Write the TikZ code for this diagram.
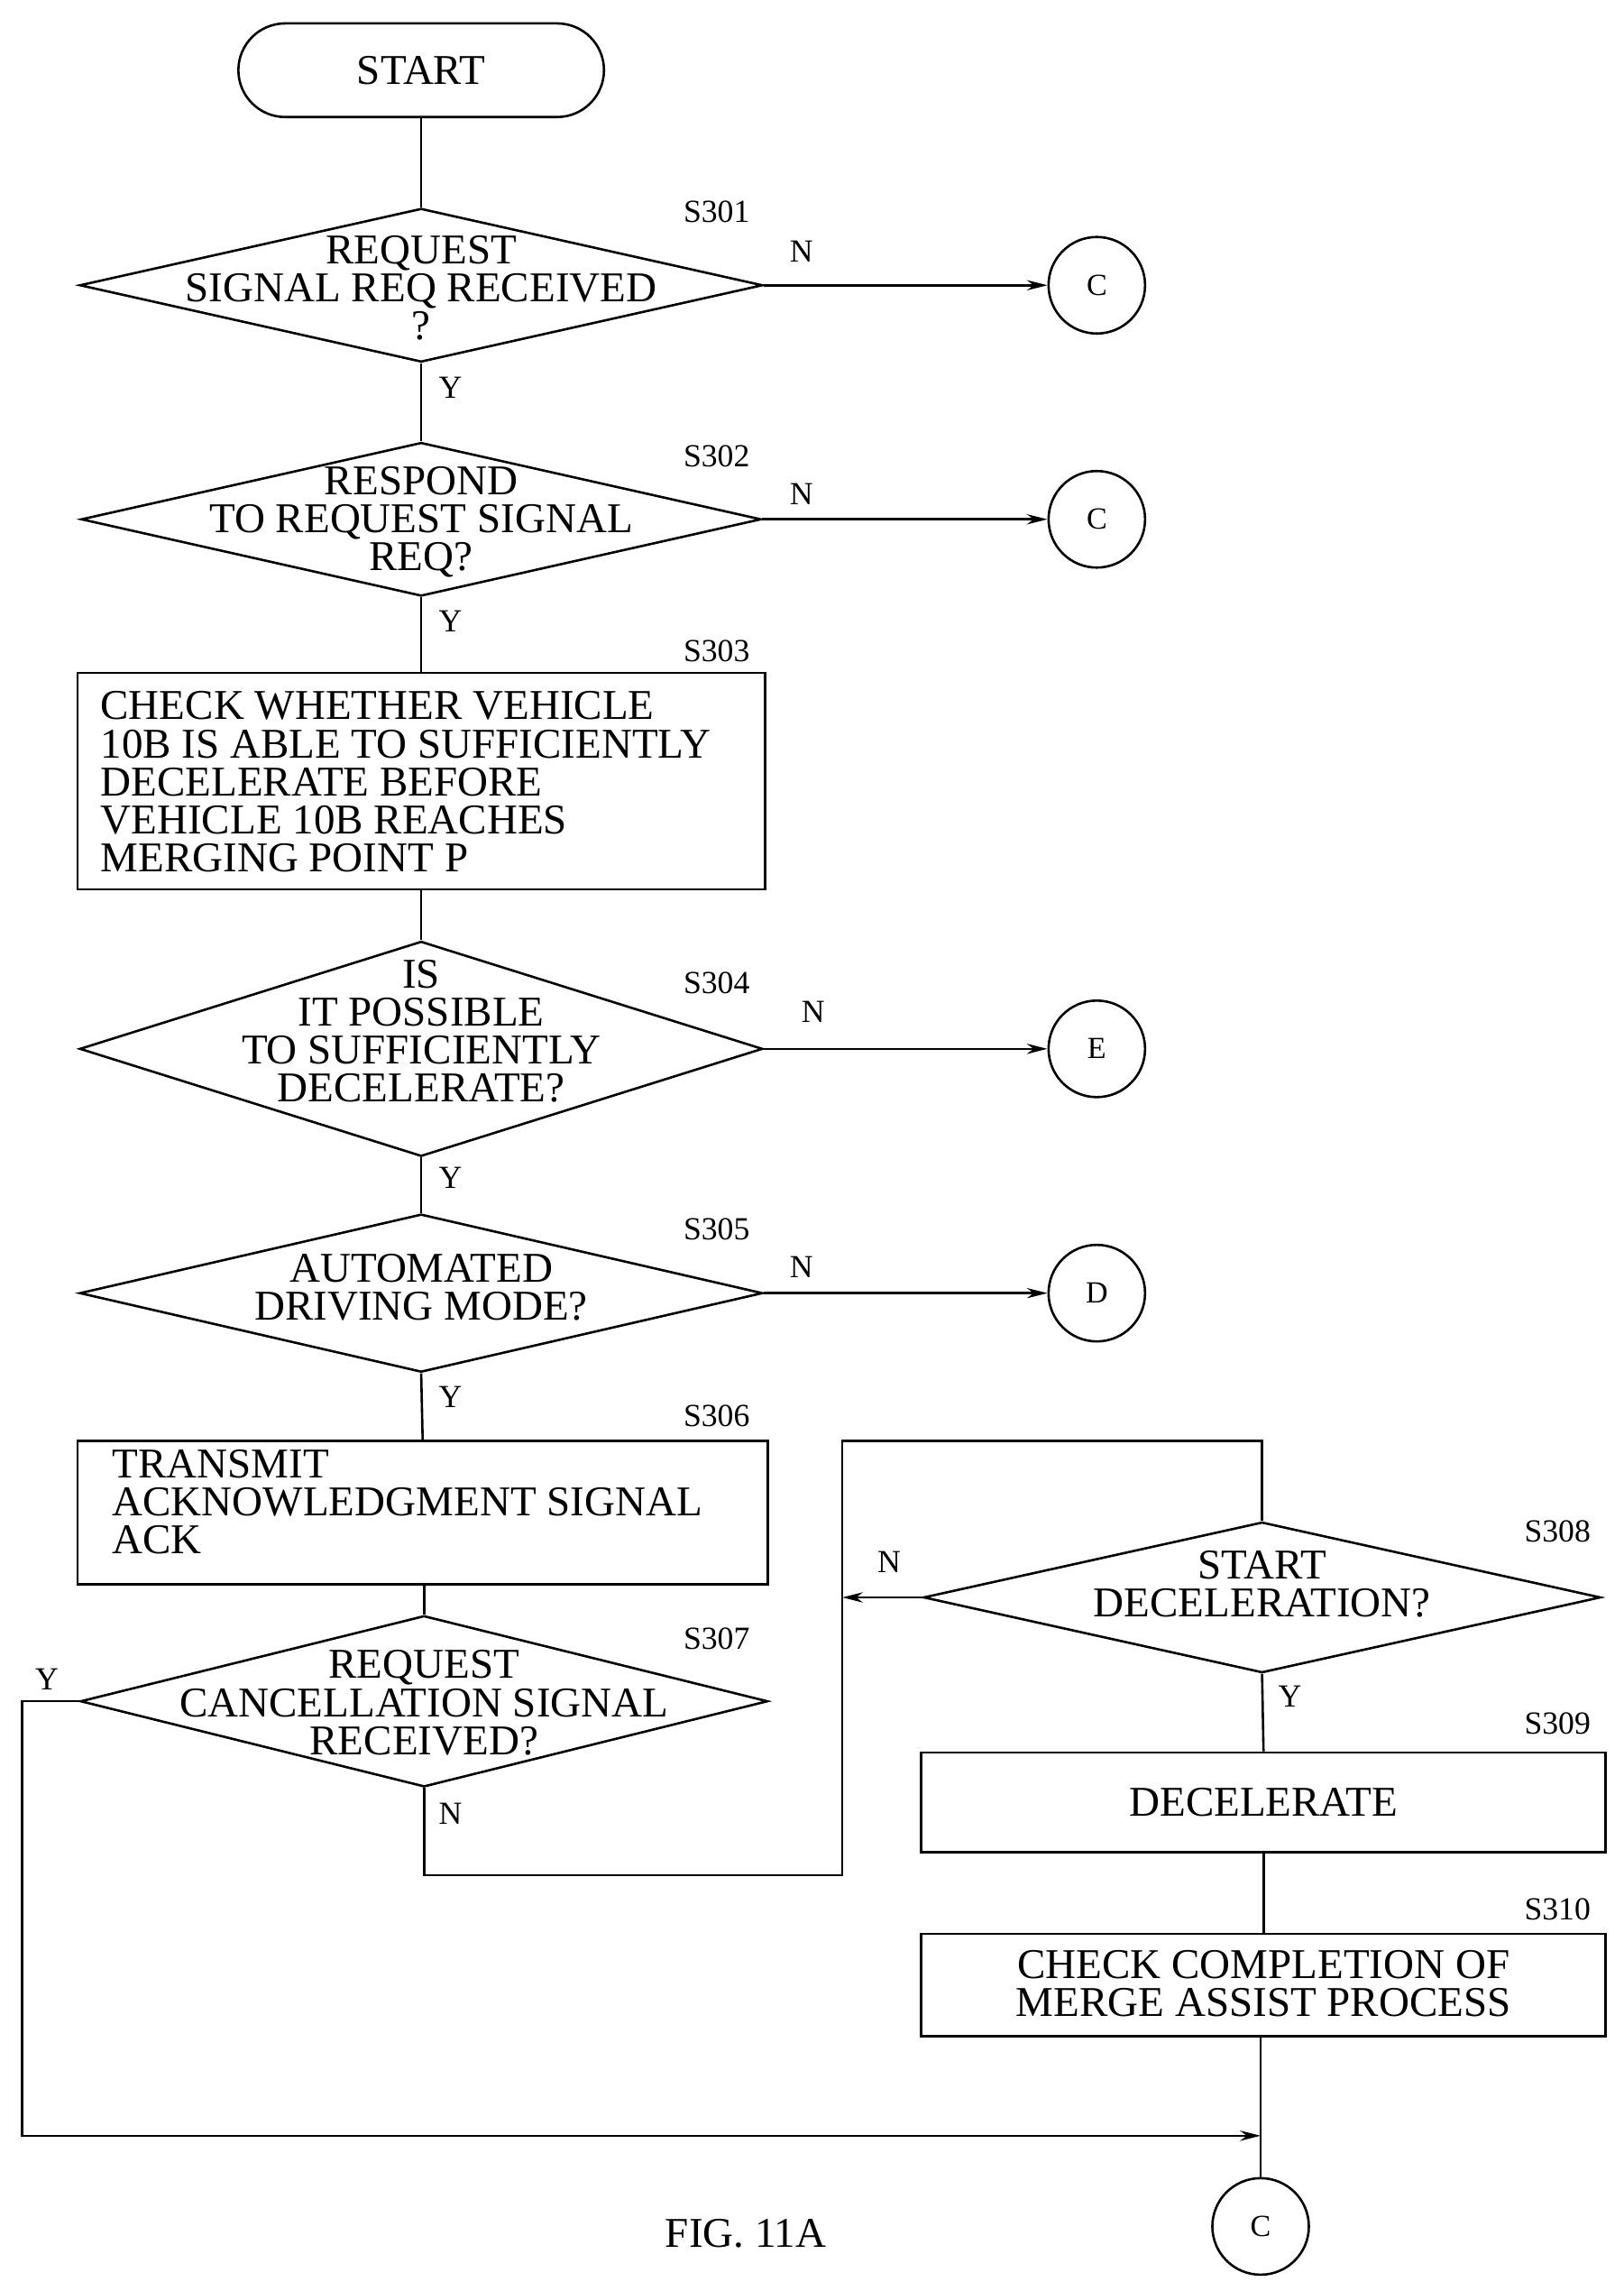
\documentclass[tikz,border=0pt]{standalone}
\usepackage{fontspec}
\setmainfont{Liberation Serif}
\usetikzlibrary{shapes.geometric,arrows.meta}
\begin{document}
\begin{tikzpicture}[x=1pt,y=-1pt,line width=1.6pt,
 dia/.style={draw,diamond,inner sep=0pt},
 box/.style={draw,rectangle,inner sep=0pt},
 txt/.style={font=\fontsize{29}{26}\selectfont,align=center,inner sep=0pt},
 lab/.style={font=\fontsize{22}{22}\selectfont,inner sep=0pt},
 con/.style={draw,circle,minimum size=66pt,inner sep=0pt,font=\fontsize{21}{22}\selectfont},
 arr/.style={-{Stealth[length=14pt,width=7pt]}}]
\useasboundingbox (0,0) rectangle (1110,1560);
\node[draw,rounded corners=32pt,minimum width=250pt,minimum height=64pt,txt] (start) at (288,48) {START};
% S301
\node[dia,minimum width=467pt,minimum height=105pt] (d1) at (288,195) {};
\node[txt] (t1) at (288,197) {REQUEST\\SIGNAL REQ RECEIVED\\?};
\node[lab] (l1) at (490,145) {S301};
\node[con] (c1) at (750,195) {C};
\node[lab] (n1) at (548,172) {N};
\node[lab] (y1) at (308,265) {Y};
% S302
\node[dia,minimum width=465pt,minimum height=105pt] (d2) at (288,355) {};
\node[txt] (t2) at (288,357) {RESPOND\\TO REQUEST SIGNAL\\REQ?};
\node[lab] (l2) at (490,312) {S302};
\node[con] (c2) at (750,355) {C};
\node[lab] (n2) at (548,338) {N};
\node[lab] (y2) at (308,425) {Y};
% S303
\node[box,minimum width=470pt,minimum height=148pt] (b3) at (288,534) {};
\node[txt,align=left,anchor=north west] (t3) at (68,472) {CHECK WHETHER VEHICLE\\10B IS ABLE TO SUFFICIENTLY\\DECELERATE BEFORE\\VEHICLE 10B REACHES\\MERGING POINT P};
\node[lab] (l3) at (490,445) {S303};
% S304
\node[dia,minimum width=467pt,minimum height=147pt] (d4) at (288,717) {};
\node[txt] (t4) at (288,705) {IS\\IT POSSIBLE\\TO SUFFICIENTLY\\DECELERATE?};
\node[lab] (l4) at (490,672) {S304};
\node[con] (c4) at (750,717) {E};
\node[lab] (n4) at (556,692) {N};
\node[lab] (y4) at (308,805) {Y};
% S305
\node[dia,minimum width=467pt,minimum height=108pt] (d5) at (288,884) {};
\node[txt] (t5) at (288,880) {AUTOMATED\\DRIVING MODE?};
\node[lab] (l5) at (490,840) {S305};
\node[con] (c5) at (750,884) {D};
\node[lab] (n5) at (548,866) {N};
\node[lab] (y5) at (308,955) {Y};
% S306
\node[box,minimum width=472pt,minimum height=98pt] (b6) at (289,1034) {};
\node[txt,align=left,anchor=north west] (t6) at (76,990) {TRANSMIT\\ACKNOWLEDGMENT SIGNAL\\ACK};
\node[lab] (l6) at (490,968) {S306};
% S307
\node[dia,minimum width=470pt,minimum height=117pt] (d7) at (290,1163) {};
\node[txt] (t7) at (290,1164) {REQUEST\\CANCELLATION SIGNAL\\RECEIVED?};
\node[lab] (l7) at (490,1120) {S307};
\node[lab] (y7) at (32,1148) {Y};
\node[lab] (n7) at (308,1240) {N};
% S308
\node[dia,minimum width=463pt,minimum height=103pt] (d8) at (863,1092) {};
\node[txt] (t8) at (863,1083) {START\\DECELERATION?};
\node[lab] (l8) at (1065,1047) {S308};
\node[lab] (n8) at (608,1068) {N};
\node[lab] (y8) at (882,1160) {Y};
% S309
\node[box,minimum width=468pt,minimum height=68pt] (b9) at (864,1232) {};
\node[txt] (t9) at (864,1232) {DECELERATE};
\node[lab] (l9) at (1065,1178) {S309};
% S310
\node[box,minimum width=468pt,minimum height=70pt] (b10) at (864,1357) {};
\node[txt] (t10) at (864,1356) {CHECK COMPLETION OF\\MERGE ASSIST PROCESS};
\node[lab] (l10) at (1065,1305) {S310};
\node[con] (c10) at (862,1522) {C};
\node[txt] (fig) at (510,1527) {FIG. 11A};
\coordinate (j) at (862,1460);
% connectors
\draw (start) -- (d1.north);
\draw[arr] (d1.east) -- (c1);
\draw (d1.south) -- (d2.north);
\draw[arr] (d2.east) -- (c2);
\draw (d2.south) -- (b3.north);
\draw (b3.south) -- (d4.north);
\draw[arr] (d4.east) -- (c4);
\draw (d4.south) -- (d5.north);
\draw[arr] (d5.east) -- (c5);
\draw (d5.south) -- (b6.north);
\draw (b6.south -| d7.north) -- (d7.north);
\draw (d7.south) |- (576,1282) -- (576,985) -| (d8.north);
\draw[arr] (d8.west) -- (576,1092);
\draw (d8.south) -- (b9.north);
\draw (b9.south) -- (b10.north);
\draw (b10.south -| j) -- (c10.north);
\draw[arr] (d7.west) -- (15,1163) |- (j);
\end{tikzpicture}
\end{document}
